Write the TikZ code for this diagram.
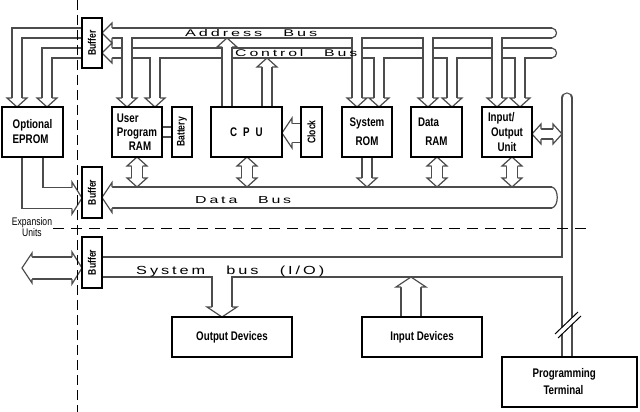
\documentclass[tikz,border=0pt]{standalone}
\usepackage{fontspec}
\usepackage{graphicx}
\setmainfont{Liberation Sans}
\newfontfamily\modfont[FakeStretch=0.78]{Liberation Sans}
\newfontfamily\busfont[LetterSpace=18]{Liberation Sans}
\definecolor{wallc}{gray}{0.3}
\newcommand\ctlpath{(82,53) -- (47,53) -- (47,98) (112,53) -- (552,53) (155,53) -- (155,98) (379,53) -- (379,98) (452,53) -- (452,98) (520,53) -- (520,98)}
\newcommand\addrpath{(82,33) -- (17,33) -- (17,98) (112,33) -- (552,33) (127,33) -- (127,98) (357,33) -- (357,98) (428,33) -- (428,98) (497,33) -- (497,98)}
\newcommand\syspath{(102,267) -- (567,267) (222,267) -- (222,307)}
\tikzset{
  wo/.style={line width=#1pt+1.2pt, draw=wallc, line join=miter},
  wi/.style={line width=#1pt-1.2pt, draw=white, line join=miter},
  pics/hd/.style n args={3}{code={
    \fill[white] (-#3,-#2) -- (0,0) -- (-#3,#2) -- cycle;
    \draw[draw=wallc, line width=1.2pt, line join=miter] (-#3,-#1) -- (-#3,-#2) -- (0,0) -- (-#3,#2) -- (-#3,#1);
  }},
  modbox/.style={draw=black, line width=1.8pt, fill=white, inner sep=0pt, align=center,
    font=\modfont\bfseries\fontsize{12.5}{15}\selectfont},
  rotbox/.style={modbox, rotate=90, font=\modfont\bfseries\fontsize{11}{12}\selectfont},
  devbox/.style={draw=black, line width=1.1pt, fill=white, inner sep=0pt, align=center,
    font=\modfont\bfseries\fontsize{12.5}{15}\selectfont},
  busl/.style={anchor=base west, inner sep=0pt},
  sepline/.style={line width=1pt, draw=black}
}
\begin{document}
\begin{tikzpicture}[x=1pt,y=-1pt]
\useasboundingbox (0,0) rectangle (640,412);
% control bus
\draw[wo=10] \ctlpath; \draw[wi=10] \ctlpath;
% address bus
\draw[wo=10] \addrpath; \draw[wi=10] \addrpath;
% CPU up arrows
\draw[wo=10] (227,107) -- (227,47) (267,107) -- (267,67);
\draw[wi=10] (227,107) -- (227,47) (267,107) -- (267,67);
% data bus and EPROM output
\draw[wo=21] (112,197.5) -- (552,197.5) (32.5,157) -- (32.5,198) -- (72,198);
\draw[wi=21] (112,197.5) -- (552,197.5) (32.5,157) -- (32.5,198) -- (72,198);
% module <-> data bus
\foreach \x in {137,247,437,512} {\draw[wo=11] (\x,166) -- (\x,178); \draw[wi=11] (\x,166) -- (\x,178);}
\draw[wo=10] (367,157) -- (367,178); \draw[wi=10] (367,157) -- (367,178);
% clock, io, battery link
\draw[wo=19] (301,133) -- (292,133); \draw[wi=19] (301,133) -- (292,133);
\draw[wo=10] (541,134) -- (553,134); \draw[wi=10] (541,134) -- (553,134);
\draw[wo=10] (162,132) -- (172,132); \draw[wi=10] (162,132) -- (172,132);
% lower buffer and input
\draw[wo=22] (32,268) -- (72,268); \draw[wi=22] (32,268) -- (72,268);
\draw[wo=20] (411,317) -- (411,287); \draw[wi=20] (411,317) -- (411,287);
% system bus
\draw[wo=20] \syspath;
\draw[wo=10, line cap=round] (567,98) -- (567,357);
\draw[wi=20] \syspath;
\draw[wi=10, line cap=round] (567,98) -- (567,357);
% heads
\foreach \x in {17,47,127,155,357,379,428,452,497,520} {\pic[rotate=-90] at (\x,107) {hd={5}{10}{9}};}
\pic[rotate=180] at (102,33) {hd={5}{10}{10}};
\pic[rotate=180] at (102,53) {hd={5}{10}{10}};
\pic[rotate=90] at (227,38) {hd={5}{10}{9}};
\pic[rotate=90] at (267,58) {hd={5}{10}{9}};
\pic[rotate=180] at (282,133) {hd={9.5}{15}{10}};
\pic[rotate=180] at (102,197.5) {hd={10.5}{15}{10}};
\pic at (82,198) {hd={10.5}{16}{10}};
\foreach \x in {137,247,437,512} {\pic[rotate=90] at (\x,157) {hd={5.5}{10}{9}}; \pic[rotate=-90] at (\x,187) {hd={5.5}{10}{9}};}
\pic[rotate=-90] at (367,187) {hd={5}{10}{9}};
\pic[rotate=180] at (532,134) {hd={5}{10}{9}};
\pic at (562,134) {hd={5}{10}{9}};
\pic at (82,268) {hd={11}{16}{10}};
\pic[rotate=180] at (22,268) {hd={11}{15}{10}};
\pic[rotate=-90] at (222,317) {hd={10}{15}{10}};
\pic[rotate=90] at (411,277) {hd={10}{15}{10}};
% rounded bus ends
\draw[wallc, line width=1.2pt] (552,28) .. controls (558,29) and (558,37) .. (552,38);
\draw[wallc, line width=1.2pt] (552,48) .. controls (558,49) and (558,57) .. (552,58);
\draw[wallc, line width=1.2pt] (552,187) .. controls (559,189) and (559,206) .. (552,208);
% modules
\node[modbox, minimum width=61pt, minimum height=50pt, align=left] (eprom) at (32.5,132) {Optional\\EPROM};
\node[modbox, minimum width=50pt, minimum height=50pt, align=left] (ram) at (137,132) {User\\[-1pt]Program\\[-1pt]\hspace*{12pt}RAM};
\node[rotbox, minimum width=50pt, minimum height=20pt] (bat) at (182,132) {Battery};
\node[modbox, minimum width=71pt, minimum height=50pt] (cpu) at (246.5,132) {\spaceskip=6pt\relax C P U};
\node[rotbox, minimum width=50pt, minimum height=21pt] (clk) at (311.5,132) {Clock};
\node[modbox, minimum width=50pt, minimum height=50pt] (rom) at (367,132) {System\\[4pt]ROM};
\node[modbox, minimum width=51pt, minimum height=50pt] (dram) at (436.5,132) {\makebox[37pt][l]{Data}\\[4pt]RAM};
\node[modbox, minimum width=50pt, minimum height=50pt] (io) at (507,132) {\makebox[38pt][l]{Input/}\\Output\\Unit};
% buffers
\node[rotbox, minimum width=50pt, minimum height=20pt] (bufa) at (92,43) {Buffer};
\node[rotbox, minimum width=51pt, minimum height=20pt] (bufb) at (92,192.5) {Buffer};
\node[rotbox, minimum width=51pt, minimum height=20pt] (bufc) at (92,262.5) {Buffer};
% devices
\node[devbox, minimum width=120pt, minimum height=40pt] (outd) at (232,337) {Output Devices};
\node[devbox, minimum width=120pt, minimum height=40pt] (ind) at (422,337) {Input Devices};
\node[devbox, minimum width=135pt, minimum height=50pt, align=left] (term) at (569.5,382) {\makebox[74pt][l]{Programming}\\[2pt]\hspace*{11pt}Terminal};
\node[font=\modfont\fontsize{11}{11}\selectfont, align=center, inner sep=0pt] (exp) at (32,227.5) {Expansion\\Units};
% bus labels
\node[busl] (laddr) at (185,37) {\resizebox{132pt}{7pt}{\busfont\spaceskip=1.3em\relax Address Bus}};
\node[busl] (lctl) at (235,57) {\resizebox{122pt}{7pt}{\busfont\spaceskip=1.3em\relax Control Bus}};
\node[busl] (ldata) at (195,203.5) {\resizebox{96pt}{7pt}{\busfont\spaceskip=1.3em\relax Data Bus}};
\node[busl] (lsys) at (136,274) {\resizebox{188pt}{8.5pt}{\busfont\spaceskip=1.3em\relax System bus (I/O)}};
% break mark on terminal line
\fill[white] (555,334) -- (578,312) -- (581,316) -- (558,338) -- cycle;
\draw[line width=1pt] (555,334) -- (578,312) (558,338) -- (581,316);
% separation lines
\draw[sepline, dash pattern=on 10pt off 5pt] (77,0) -- (77,412);
\draw[sepline, dash pattern=on 11pt off 7pt] (53,228) -- (587,228);
\end{tikzpicture}
\end{document}
